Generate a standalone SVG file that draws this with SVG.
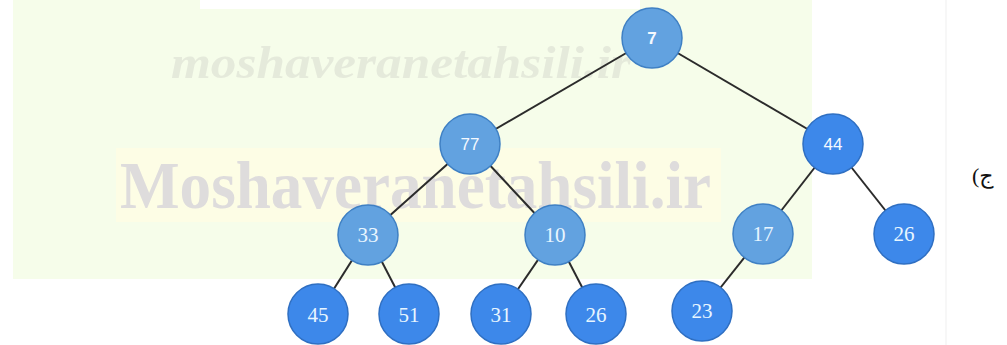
<svg xmlns="http://www.w3.org/2000/svg" width="1007" height="345" viewBox="0 0 1007 345">
<style>
.edge{stroke:#2b2b2b;stroke-width:2;fill:none}
.n1{fill:#62a2e0;stroke:#3f80c4;stroke-width:1.5}
.n2{fill:#3d88ea;stroke:#2f6fc2;stroke-width:1.5}
.ts{font-family:"Liberation Serif","Times New Roman",serif;font-size:21px;fill:#e8f6ff;text-anchor:middle;dominant-baseline:central}
.tn{font-family:"Liberation Sans",Arial,sans-serif;font-size:17px;fill:#f4f9ff;text-anchor:middle;dominant-baseline:central}
</style>
<rect x="0" y="0" width="1007" height="345" fill="#ffffff"/>
<rect x="13" y="0" width="799" height="279" fill="#f6fdea"/>
<rect x="200" y="0" width="440" height="9" fill="#ffffff"/>
<rect x="116" y="148" width="605" height="74" fill="#fdfde5"/>
<line x1="946" y1="0" x2="946" y2="345" stroke="#f5f5f5" stroke-width="1.5"/>
<text x="171" y="78" font-family="Liberation Serif,serif" font-style="italic" font-weight="bold" font-size="46" fill="#e5eadb" textLength="460" lengthAdjust="spacingAndGlyphs">moshaveranetahsili.ir</text>
<text x="120" y="208" font-family="Liberation Serif,serif" font-weight="bold" font-size="68" fill="#dedcdc" textLength="591" lengthAdjust="spacingAndGlyphs">Moshaveranetahsili.ir</text>
<g id="connectors">
<line class="edge" x1="652" y1="38" x2="470" y2="144"/>
<line class="edge" x1="652" y1="38" x2="833" y2="144"/>
<line class="edge" x1="470" y1="144" x2="368" y2="235"/>
<line class="edge" x1="470" y1="144" x2="555" y2="235"/>
<line class="edge" x1="833" y1="144" x2="763" y2="234"/>
<line class="edge" x1="833" y1="144" x2="904" y2="234"/>
<line class="edge" x1="368" y1="235" x2="318" y2="314"/>
<line class="edge" x1="368" y1="235" x2="409" y2="314"/>
<line class="edge" x1="555" y1="235" x2="501" y2="314"/>
<line class="edge" x1="555" y1="235" x2="596" y2="314"/>
<line class="edge" x1="763" y1="234" x2="702" y2="311"/>
</g>
<g id="n7"><circle class="n1" cx="652" cy="38" r="30"/><text class="tn" x="652" y="38" font-weight="bold">7</text></g>
<g id="n77"><circle class="n1" cx="470" cy="144" r="30"/><text class="tn" x="470" y="144">77</text></g>
<g id="n44"><circle class="n2" cx="833" cy="144" r="30"/><text class="tn" x="833" y="144">44</text></g>
<g id="n33"><circle class="n1" cx="368" cy="235" r="30"/><text class="ts" x="368" y="235">33</text></g>
<g id="n10"><circle class="n1" cx="555" cy="235" r="30"/><text class="ts" x="555" y="235">10</text></g>
<g id="n17"><circle class="n1" cx="763" cy="234" r="30"/><text class="ts" x="763" y="234">17</text></g>
<g id="n26a"><circle class="n2" cx="904" cy="234" r="30"/><text class="ts" x="904" y="234">26</text></g>
<g id="n45"><circle class="n2" cx="318" cy="314" r="30"/><text class="ts" x="318" y="315">45</text></g>
<g id="n51"><circle class="n2" cx="409" cy="314" r="30"/><text class="ts" x="409" y="315">51</text></g>
<g id="n31"><circle class="n2" cx="501" cy="314" r="30"/><text class="ts" x="501" y="315">31</text></g>
<g id="n26b"><circle class="n2" cx="596" cy="314" r="30"/><text class="ts" x="596" y="315">26</text></g>
<g id="n23"><circle class="n2" cx="702" cy="311" r="30"/><text class="ts" x="702" y="311">23</text></g>
<text x="972" y="183" direction="ltr" unicode-bidi="bidi-override" font-family="'Liberation Serif','DejaVu Serif','DejaVu Sans',serif" font-size="22" fill="#111">(ج</text>
</svg>
